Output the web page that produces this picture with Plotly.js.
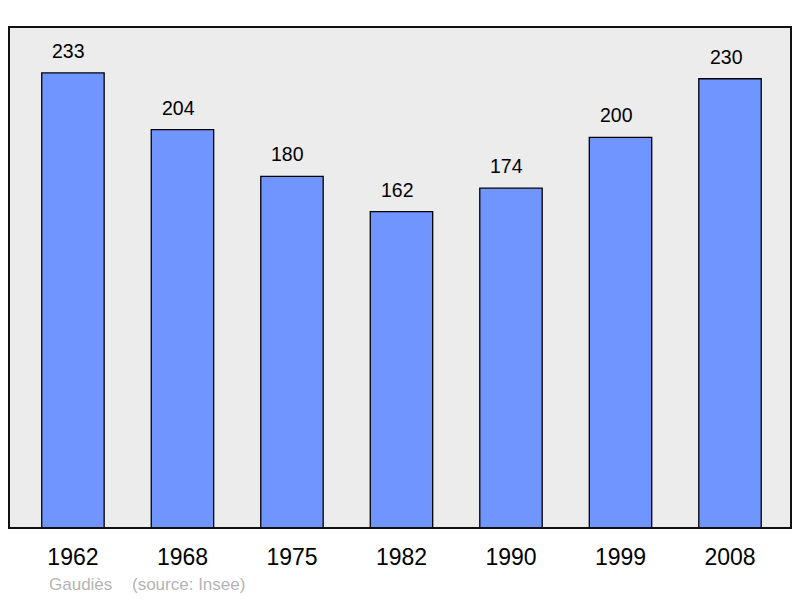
<!DOCTYPE html>
<html>
<head>
<meta charset="utf-8">
<script src="https://cdn.plot.ly/plotly-3.0.1.min.js"></script>
<style>
  html, body { margin: 0; padding: 0; background: #fff; }
  #chart { width: 800px; height: 598px; }
</style>
</head>
<body>
<div id="chart"></div>
<script>
// Population par recensement
var years = ['1962', '1968', '1975', '1982', '1990', '1999', '2008'];
var population = [233, 204, 180, 162, 174, 200, 230];
var commune = 'Gaudiès';
var source = '(source: Insee)';

var font = 'Liberation Sans, Arial, sans-serif';

var trace = {
    x: years,
    y: population,
    type: 'bar',
    width: 0.57,
    marker: {color: '#7095ff', line: {color: '#000', width: 1.3}},
    hoverinfo: 'none'
};

// value labels above each bar (slightly left of centre, as in the original)
var labels = population.map(function(v, i) {
    return {
        x: i, y: v, xref: 'x', yref: 'y',
        text: String(v),
        showarrow: false, yanchor: 'bottom', yshift: 9, xshift: -4,
        font: {family: font, size: 19.5, color: '#000'}
    };
});

labels.push({
    x: 0.0485, y: 0, xref: 'paper', yref: 'paper',
    xanchor: 'left', yanchor: 'middle', yshift: -56,
    text: commune, showarrow: false,
    font: {family: font, size: 17, color: '#b4b4b4'}
});
labels.push({
    x: 0.155, y: 0, xref: 'paper', yref: 'paper',
    xanchor: 'left', yanchor: 'middle', yshift: -56,
    text: source, showarrow: false,
    font: {family: font, size: 17, color: '#b4b4b4'}
});

var layout = {
    width: 800, height: 598,
    margin: {l: 9, r: 9, t: 27, b: 70},
    paper_bgcolor: '#fff',
    plot_bgcolor: '#ececec',
    showlegend: false,
    xaxis: {
        type: 'category',
        range: [-0.584, 6.557],
        showgrid: false, zeroline: false, showline: false,
        ticks: '', ticklabelstandoff: 13,
        tickfont: {family: font, size: 23, color: '#000'}
    },
    yaxis: {
        range: [0, 256.5],
        showgrid: false, zeroline: false, showline: false,
        showticklabels: false, ticks: ''
    },
    shapes: [{
        type: 'rect', xref: 'paper', yref: 'paper',
        x0: 0, x1: 1, y0: 0, y1: 1,
        line: {color: '#111', width: 2}
    }],
    annotations: labels
};

Plotly.newPlot('chart', [trace], layout, {displayModeBar: false, staticPlot: true});
</script>
</body>
</html>
